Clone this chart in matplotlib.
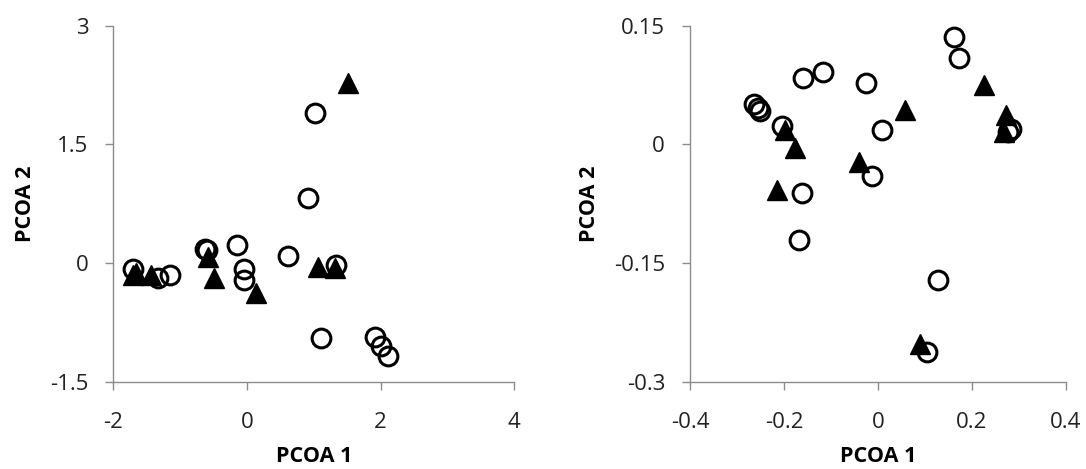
import matplotlib
matplotlib.use("Agg")
import matplotlib.pyplot as plt
from matplotlib import font_manager

# PCoA scores, panel A (open circles / filled triangles)
a_circ_x = [1.02, 0.92, -0.15, -0.63, -0.60, 0.61, -0.05, -0.05, 1.34, 1.11, 1.92, 2.01, 2.11, -1.71, -1.33, -1.15]
a_circ_y = [1.90, 0.82, 0.23, 0.18, 0.16, 0.09, -0.08, -0.21, -0.02, -0.95, -0.94, -1.05, -1.17, -0.08, -0.19, -0.15]
a_tri_x = [1.52, 1.07, 1.32, -0.50, 0.13, -0.58, -1.70, -1.43, -1.66]
a_tri_y = [2.27, -0.05, -0.06, -0.19, -0.38, 0.07, -0.15, -0.15, -0.13]

# PCoA scores, panel B
b_circ_x = [0.162, 0.173, -0.118, -0.159, -0.026, -0.263, -0.256, -0.251, -0.204, 0.009, -0.013, -0.162, -0.169, 0.128, 0.104, 0.282, 0.277]
b_circ_y = [0.136, 0.109, 0.091, 0.084, 0.077, 0.051, 0.046, 0.042, 0.023, 0.018, -0.040, -0.061, -0.121, -0.171, -0.262, 0.019, 0.016]
b_tri_x = [0.226, 0.057, 0.272, 0.267, -0.199, -0.177, -0.040, -0.216, 0.089]
b_tri_y = [0.075, 0.043, 0.037, 0.016, 0.018, -0.004, -0.022, -0.058, -0.252]

a_xticks = [-2, 0, 2, 4]
a_yticks = [-1.5, 0, 1.5, 3]
a_xlabels = ["-2", "0", "2", "4"]
a_ylabels = ["-1.5", "0", "1.5", "3"]
b_xticks = [-0.4, -0.2, 0, 0.2, 0.4]
b_yticks = [-0.3, -0.15, 0, 0.15]
b_xlabels = ["-0.4", "-0.2", "0", "0.2", "0.4"]
b_ylabels = ["-0.3", "-0.15", "0", "0.15"]

avail = {f.name for f in font_manager.fontManager.ttflist}
fam = "Liberation Sans Narrow" if "Liberation Sans Narrow" in avail else "Open Sans"
plt.rcParams["font.family"] = [fam, "DejaVu Sans"]

fig = plt.figure(figsize=(10.86, 4.69), dpi=100)
ax1 = fig.add_axes([0.1043, 0.1862, 0.3692, 0.759])
ax2 = fig.add_axes([0.6354, 0.1862, 0.3462, 0.759])

panels = [
    (ax1, a_circ_x, a_circ_y, a_tri_x, a_tri_y, a_xticks, a_yticks, a_xlabels, a_ylabels),
    (ax2, b_circ_x, b_circ_y, b_tri_x, b_tri_y, b_xticks, b_yticks, b_xlabels, b_ylabels),
]
for ax, cx, cy, tx, ty, xt, yt, xl, yl in panels:
    ax.plot(tx, ty, linestyle="none", marker="^", markersize=14,
            color="black", clip_on=False)
    ax.plot(cx, cy, linestyle="none", marker="o", markersize=13.5,
            markerfacecolor="none", markeredgecolor="black",
            markeredgewidth=2.2, clip_on=False)
    ax.set_xlim(xt[0], xt[-1])
    ax.set_ylim(yt[0], yt[-1])
    ax.set_xticks(xt)
    ax.set_xticklabels(xl)
    ax.set_yticks(yt)
    ax.set_yticklabels(yl)
    for s in ["top", "right"]:
        ax.spines[s].set_visible(False)
    for s in ["left", "bottom"]:
        ax.spines[s].set_color("#8c8c8c")
        ax.spines[s].set_linewidth(1.0)
    ax.tick_params(axis="both", direction="out", length=6, width=1.0,
                   color="#8c8c8c", labelsize=16, labelcolor="#222222")
    ax.tick_params(axis="x", pad=16)
    ax.tick_params(axis="y", pad=12)
    ax.set_xlabel("PCOA 1", fontsize=15.5, fontweight="bold", labelpad=9)
    ax.set_ylabel("PCOA 2", fontsize=15.5, fontweight="bold", labelpad=10)

fig.savefig("out.png", dpi=100, facecolor="white")
